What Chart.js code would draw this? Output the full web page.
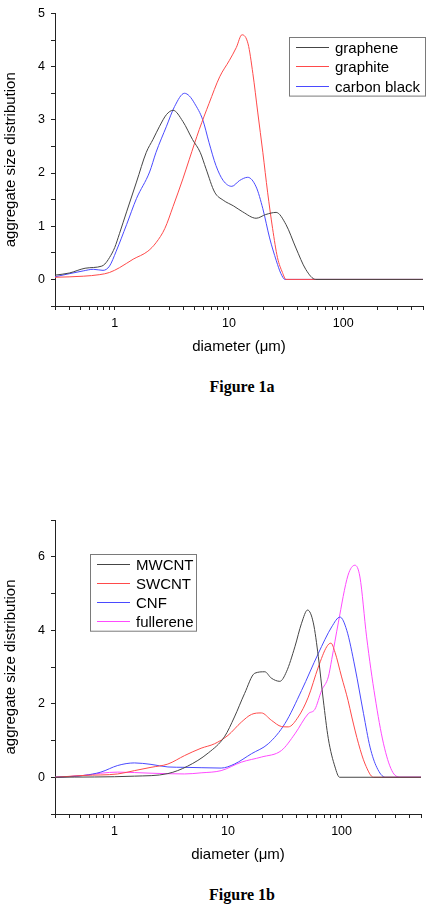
<!DOCTYPE html>
<html>
<head>
<meta charset="utf-8">
<script src="https://cdn.jsdelivr.net/npm/chart.js@4.4.1/dist/chart.umd.min.js"></script>
<style>
    body { margin: 0; background: #fff; width: 430px; height: 908px; position: relative; overflow: hidden; }
    canvas { position: absolute; left: 0; }
    .caption {
        position: absolute; width: 120px; text-align: center;
        font: bold 16px "Liberation Serif", "Times New Roman", serif; line-height: 20px; color: #000;
    }
</style>
</head>
<body>
<canvas id="chartA" width="430" height="356" style="top:0"></canvas>
<div class="caption" style="left:182px; top:377px">Figure 1a</div>
<canvas id="chartB" width="430" height="364" style="top:500px"></canvas>
<div class="caption" style="left:182px; top:885px">Figure 1b</div>

<script>
// Figure 1a
const grapheneD = [0.3, 0.4, 0.55, 0.77, 0.82, 0.9, 1.0, 1.1, 1.27, 1.55, 1.89, 2.16, 2.47, 2.84, 3.24, 3.95, 4.8, 5.6, 6.3, 7.5, 8.9, 11, 13.2, 17.3, 21, 25.9, 31.6, 38.6, 47, 57.5, 500];
const grapheneV = [0.08, 0.12, 0.21, 0.25, 0.29, 0.41, 0.6, 0.86, 1.27, 1.83, 2.39, 2.63, 2.88, 3.10, 3.18, 2.97, 2.63, 2.39, 2.08, 1.64, 1.49, 1.38, 1.27, 1.15, 1.22, 1.26, 1.03, 0.59, 0.19, 0, 0];
const graphiteD = [0.3, 0.53, 0.74, 0.9, 1.1, 1.45, 1.95, 2.3, 2.75, 3.24, 3.95, 4.5, 5.5, 6.7, 8.3, 10.1, 11.6, 13.0, 14.7, 16.2, 17.9, 19.8, 21.8, 24.1, 26.6, 29.4, 31.6, 500];
const graphiteV = [0.04, 0.06, 0.09, 0.13, 0.22, 0.38, 0.53, 0.69, 0.96, 1.37, 1.89, 2.26, 2.82, 3.31, 3.81, 4.12, 4.36, 4.60, 4.43, 3.87, 3.13, 2.39, 1.64, 0.96, 0.41, 0.13, 0, 0];
const carbonBlackD = [0.3, 0.53, 0.65, 0.79, 0.9, 1.03, 1.27, 1.55, 2.02, 2.3, 2.84, 3.34, 4.08, 4.5, 5.0, 5.9, 6.7, 7.7, 8.9, 10.6, 12.4, 14.6, 17.3, 19.8, 22.7, 26, 28.5, 31, 500];
const carbonBlackV = [0.05, 0.16, 0.19, 0.17, 0.25, 0.53, 1.03, 1.52, 2.02, 2.39, 2.88, 3.25, 3.50, 3.45, 3.31, 3.0, 2.57, 2.14, 1.86, 1.75, 1.86, 1.92, 1.74, 1.33, 0.78, 0.35, 0.11, 0, 0];

// Figure 1b
const mwcntD = [0.3, 1.5, 2.96, 4.4, 6.7, 9.3, 11.4, 14, 17.2, 21.1, 24, 28.6, 32.7, 38.8, 44.4, 50.2, 56.4, 62.4, 69, 76.4, 87.5, 96, 500];
const mwcntV = [0, 0.03, 0.1, 0.3, 0.66, 1.1, 1.64, 2.28, 2.83, 2.87, 2.70, 2.61, 2.87, 3.55, 4.19, 4.55, 4.2, 3.28, 2.1, 1.05, 0.28, 0, 0];
const swcntD = [0.3, 0.54, 1.07, 1.5, 2.1, 2.96, 4.15, 5.8, 7.6, 10, 13.1, 16.1, 19.7, 24.1, 29.6, 33.9, 41.5, 50.9, 62.4, 73.9, 80.6, 87.5, 100, 114, 123, 141, 161, 191, 500];
const swcntV = [0, 0.05, 0.09, 0.18, 0.27, 0.36, 0.59, 0.79, 0.91, 1.14, 1.50, 1.71, 1.75, 1.55, 1.38, 1.37, 1.64, 2.18, 3.0, 3.55, 3.65, 3.40, 2.73, 2.09, 1.64, 0.91, 0.36, 0, 0];
const cnfD = [0.3, 0.54, 0.76, 1.07, 1.5, 2.1, 2.96, 4.15, 5.8, 8.7, 11.4, 16.1, 22.6, 31.7, 44.4, 62.4, 81.8, 96.8, 111, 131, 156, 178, 204, 242, 500];
const cnfV = [0, 0.05, 0.14, 0.32, 0.39, 0.35, 0.28, 0.27, 0.26, 0.25, 0.36, 0.64, 0.91, 1.46, 2.36, 3.37, 4.09, 4.36, 4.0, 3.0, 1.73, 0.82, 0.27, 0, 0];
const fullereneD = [0.3, 0.54, 0.76, 1.07, 2.1, 4.15, 5.8, 8.7, 13.1, 19.7, 29.6, 38.8, 50.9, 58.2, 66.7, 76.4, 81.8, 93.5, 114, 131, 145, 166, 197, 234, 277, 327, 500];
const fullereneV = [0, 0.05, 0.11, 0.14, 0.11, 0.09, 0.12, 0.18, 0.41, 0.55, 0.73, 1.18, 1.73, 1.85, 2.36, 2.73, 3.2, 4.2, 5.5, 5.77, 5.45, 3.82, 2.18, 0.91, 0.18, 0, 0];

const xLabels = [1, 10, 100];
const xTitle = 'diameter (\u03bcm)';
const yTitle = 'aggregate size distribution';

const FONT = '"Liberation Sans", Arial, sans-serif';

function points(d, v) {
    return d.map((x, i) => ({ x: x, y: v[i] }));
}

function series(label, d, v, color) {
    return {
        label: label,
        data: points(d, v),
        borderColor: color,
        borderWidth: 1,
        pointRadius: 0,
        cubicInterpolationMode: 'monotone',
        fill: false,
    };
}

// legend box drawn inside the plot, like the original
const boxLegend = {
    id: 'boxLegend',
    afterDraw(chart, args, opts) {
        const ctx = chart.ctx;
        const sets = chart.data.datasets;
        const h = opts.pad * 2 + opts.row * (sets.length - 1);
        ctx.save();
        ctx.strokeStyle = '#7a7a7a';
        ctx.lineWidth = 1;
        ctx.strokeRect(opts.x + 0.5, opts.y + 0.5, opts.w, h);
        ctx.font = '15px ' + FONT;
        ctx.textBaseline = 'middle';
        ctx.fillStyle = '#000';
        sets.forEach((ds, i) => {
            const y = Math.round(opts.y + opts.pad + i * opts.row) + 0.5;
            ctx.strokeStyle = ds.borderColor;
            ctx.beginPath();
            ctx.moveTo(opts.x + 7, y);
            ctx.lineTo(opts.x + 40, y);
            ctx.stroke();
            ctx.fillText(ds.label, opts.x + 46, y + 1);
        });
        ctx.restore();
    }
};

function makeChart(id, datasets, yMin, yMax, yStep, yLabelEvery, padding, legend) {
    return new Chart(document.getElementById(id), {
        type: 'line',
        data: { datasets: datasets },
        plugins: [boxLegend],
        options: {
            responsive: false,
            animation: false,
            devicePixelRatio: 1,
            layout: { padding: padding },
            plugins: {
                legend: { display: false },
                tooltip: { enabled: false },
                boxLegend: legend,
            },
            scales: {
                x: {
                    type: 'logarithmic',
                    min: 0.3,
                    max: 500,
                    afterBuildTicks(axis) {
                        // keep 1..9 x 10^n only (drop the 1.5 steps)
                        axis.ticks = axis.ticks.filter(t => {
                            const m = t.value / Math.pow(10, Math.floor(Math.log10(t.value) + 1e-9));
                            return Math.abs(m - Math.round(m)) < 1e-6;
                        });
                    },
                    afterFit(axis) { axis.height = 50; },
                    grid: { drawOnChartArea: false, drawTicks: true, tickLength: 4, tickColor: '#222' },
                    border: { display: true, color: '#222', width: 1 },
                    ticks: {
                        autoSkip: false,
                        maxRotation: 0,
                        padding: 6,
                        color: '#000',
                        font: { family: FONT, size: 12.5 },
                        callback: (v) => xLabels.includes(v) ? String(v) : '',
                    },
                    title: {
                        display: true,
                        text: xTitle,
                        color: '#000',
                        font: { family: FONT, size: 15 },
                        padding: { top: 0, bottom: 0 },
                    },
                },
                y: {
                    min: yMin,
                    max: yMax,
                    afterFit(axis) { axis.width = 55; },
                    grid: { drawOnChartArea: false, drawTicks: true, tickLength: 4, tickColor: '#222' },
                    border: { display: true, color: '#222', width: 1 },
                    ticks: {
                        stepSize: yStep,
                        padding: 6,
                        color: '#000',
                        font: { family: FONT, size: 12.5 },
                        callback: (v) => (v >= 0 && Math.abs(v % yLabelEvery) < 1e-9) ? String(v) : '',
                    },
                    title: {
                        display: true,
                        text: yTitle,
                        color: '#000',
                        font: { family: FONT, size: 15 },
                        padding: { top: 2, bottom: 0 },
                    },
                },
            },
        },
    });
}

makeChart('chartA', [
    series('graphene', grapheneD, grapheneV, '#454545'),
    series('graphite', graphiteD, graphiteV, '#ff4a4a'),
    series('carbon black', carbonBlackD, carbonBlackV, '#4a4aff'),
], -0.5, 5, 0.5, 1, { top: 9, right: 7, left: 0, bottom: 0 },
   { x: 289, y: 37, w: 136, pad: 10, row: 19.3 });

makeChart('chartB', [
    series('MWCNT', mwcntD, mwcntV, '#454545'),
    series('SWCNT', swcntD, swcntV, '#ff4a4a'),
    series('CNF', cnfD, cnfV, '#4a4aff'),
    series('fullerene', fullereneD, fullereneV, '#ff4aff'),
], -1, 7, 1, 2, { top: 20, right: 9, left: 0, bottom: 0 },
   { x: 90, y: 54, w: 106, pad: 9.7, row: 19.1 });
</script>
</body>
</html>
